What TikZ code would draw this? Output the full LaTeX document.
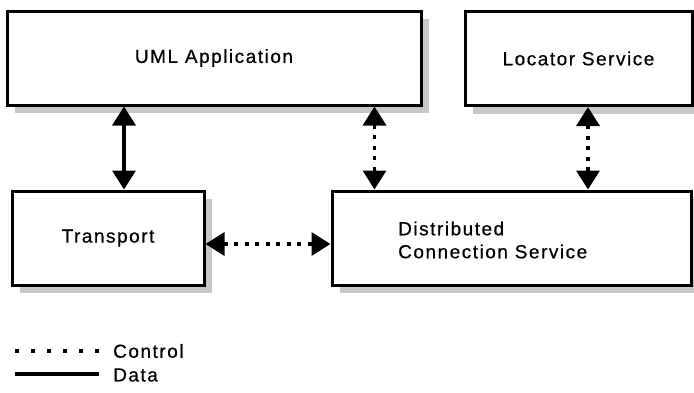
\documentclass[tikz,border=0pt]{standalone}
\usepackage{fontspec}
\setmainfont{Liberation Sans}[LetterSpace=8, FakeBold=0.6]
\usetikzlibrary{positioning, arrows.meta, shadows, calc}
\tikzset{
    box/.style={draw, line width=3pt, fill=white, minimum height=94pt,
        inner sep=0pt,
        general shadow={fill=black!22, shadow xshift=8pt, shadow yshift=-8pt}},
    txt/.style={font=\fontsize{19pt}{23pt}\selectfont, inner sep=0pt},
    link/.style={line width=3.5pt,
        {Triangle[length=19pt,width=23pt]}-{Triangle[length=19pt,width=23pt]}},
    datalink/.style={link},
    ctrllink/.style={link, dash pattern=on 4pt off 6.5pt},
    dataline/.style={line width=3.5pt},
    ctrlline/.style={line width=3.5pt, dash pattern=on 4pt off 12pt},
}
\begin{document}
\begin{tikzpicture}[x=1pt, y=-1pt]
    \useasboundingbox (0,0) rectangle (694,392);

    % boxes
    \node[box, txt, minimum width=414pt] (uml) at (214,58) {UML Application};
    \node[box, txt, minimum width=227pt] (locator) at (578.5,58.5) {Locator Service};
    \node[box, txt, minimum width=192pt] (transport) at (108,238) {Transport};
    \node[box, minimum width=359pt] (dcs) at (511.5,238) {};
    \node[txt, anchor=west, align=left] (dcstext) at (398,240)
        {Distributed\\Connection Service};

    % connectors
    \draw[datalink] ([xshift=16pt]transport.north |- uml.south)
        -- ([xshift=16pt]transport.north);
    \draw[ctrllink] ([xshift=44pt]dcs.north west |- uml.south)
        -- ([xshift=44pt]dcs.north west);
    \draw[ctrllink] ([xshift=9.5pt]locator.south)
        -- ([xshift=9.5pt]locator.south |- dcs.north);
    \draw[ctrllink] ([yshift=-6pt]transport.east) -- ([yshift=-6pt]dcs.west);

    % legend
    \coordinate (ctrlstart) at (15,351);
    \coordinate (ctrlend) at (99,351);
    \coordinate (datastart) at (15,374);
    \coordinate (dataend) at (99,374);
    \draw[ctrlline] (ctrlstart) -- (ctrlend);
    \draw[dataline] (datastart) -- (dataend);
    \node[txt, anchor=west] (ctrltext) at (113,351) {Control};
    \node[txt, anchor=west] (datatext) at (113,375) {Data};
\end{tikzpicture}
\end{document}
